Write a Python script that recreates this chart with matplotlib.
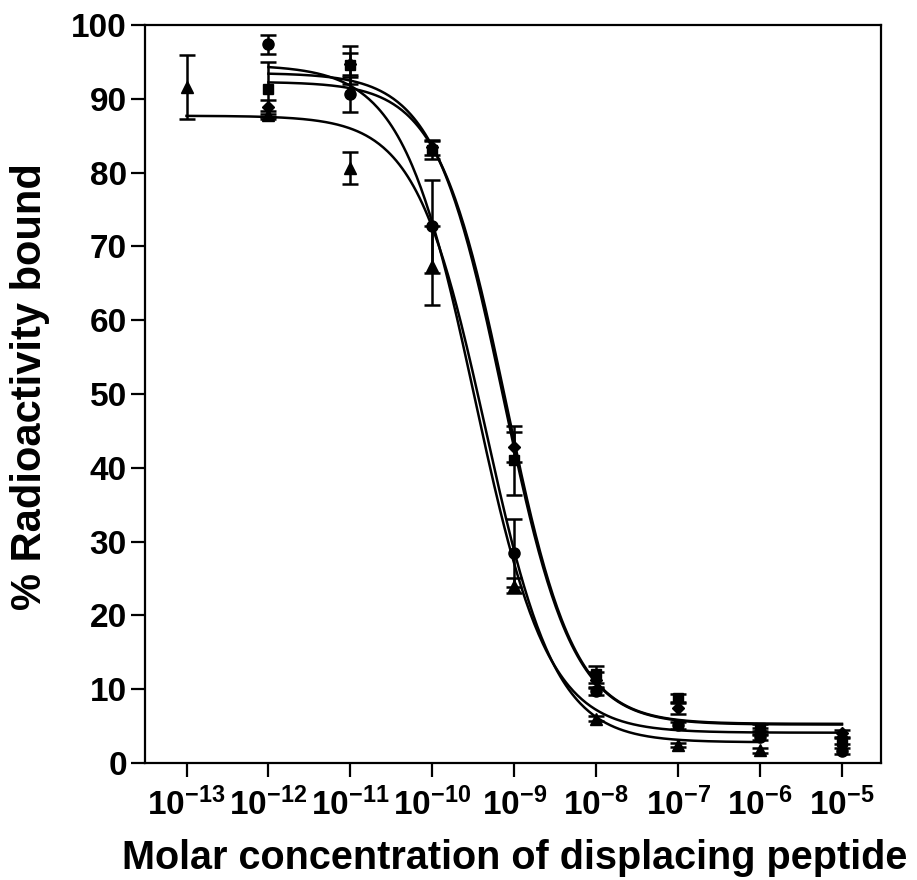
import numpy as np
import matplotlib
matplotlib.use('Agg')
import matplotlib.pyplot as plt
import matplotlib.ticker as mticker

plt.rcParams['font.family'] = ['Liberation Sans', 'DejaVu Sans']
plt.rcParams['font.weight'] = 'bold'
plt.rcParams['mathtext.fontset'] = 'custom'
plt.rcParams['mathtext.rm'] = 'Liberation Sans:bold'
plt.rcParams['mathtext.bf'] = 'Liberation Sans:bold'
plt.rcParams['mathtext.default'] = 'rm'

# concentrations (log10 M)
conc_a = [-12, -11, -10, -9, -8, -7, -6, -5]
conc_tri = [-13, -12, -11, -10, -9, -8, -7, -6]

# % radioactivity bound, mean and error
circle_y = [97.4, 90.6, 72.7, 28.4, 9.7, 5.1, 3.5, 1.6]
circle_err = [1.3, 2.4, 6.3, 4.6, 0.5, 0.5, 0.4, 0.4]
square_y = [91.3, 94.6, 83.1, 41.0, 12.0, 8.8, 4.8, 3.0]
square_err = [3.7, 2.6, 1.2, 4.7, 1.2, 0.6, 0.5, 0.4]
diamond_y = [88.9, 94.7, 83.4, 42.8, 11.3, 7.4, 4.3, 4.0]
diamond_err = [1.0, 1.5, 1.0, 2.0, 1.0, 0.7, 0.5, 0.5]
tri_y = [91.6, 87.8, 80.6, 67.4, 24.0, 6.0, 2.4, 1.7]
tri_err = [4.3, 0.5, 2.2, 5.4, 1.0, 0.3, 0.3, 0.3]

# sigmoid fit parameters: top, bottom, logIC50, hill
fit_circle = [94.6, 4.1, -9.48, 0.98]
fit_square = [93.5, 5.2, -9.13, 1.03]
fit_diamond = [92.3, 5.3, -9.10, 1.05]
fit_tri = [87.7, 2.8, -9.35, 1.02]

xticks = [-13, -12, -11, -10, -9, -8, -7, -6, -5]


def sigmoid(x, p):
	top, bottom, c, h = p
	return bottom + (top - bottom) / (1 + 10 ** ((x - c) * h))


def main():
	fig = plt.figure(figsize=(9.17, 8.8), dpi=100)
	ax = fig.add_axes([0.1581, 0.1330, 0.8026, 0.8386])

	kw = dict(color='black', linestyle='none', capsize=5.5, elinewidth=1.8,
		capthick=1.8, markersize=7.5, zorder=3)
	ax.errorbar(10.0 ** np.array(conc_a), square_y, yerr=square_err, fmt='s', **kw)
	ax.errorbar(10.0 ** np.array(conc_a), diamond_y, yerr=diamond_err, fmt='D', **dict(kw, markersize=6.5))
	ax.errorbar(10.0 ** np.array(conc_a), circle_y, yerr=circle_err, fmt='o', **dict(kw, markersize=8))
	ax.errorbar(10.0 ** np.array(conc_tri), tri_y, yerr=tri_err, fmt='^', **dict(kw, markersize=8))

	xa = np.linspace(conc_a[0], conc_a[-1], 400)
	xt = np.linspace(conc_tri[0], conc_tri[-1], 400)
	for p in (fit_circle, fit_square, fit_diamond):
		ax.plot(10 ** xa, sigmoid(xa, p), color='black', lw=1.8, zorder=2)
	ax.plot(10 ** xt, sigmoid(xt, fit_tri), color='black', lw=1.8, zorder=2)

	ax.set_xscale('log')
	ax.set_xlim(10 ** -13.507, 10 ** -4.524)
	ax.set_ylim(0, 100)
	ax.set_xticks([10.0 ** k for k in xticks])
	ax.set_xticklabels([r'$10^{%d}$' % k for k in xticks])
	ax.xaxis.set_minor_locator(mticker.NullLocator())
	ax.set_yticks(range(0, 101, 10))

	for s in ax.spines.values():
		s.set_linewidth(1.6)
	ax.tick_params(axis='both', direction='out', length=10, width=1.6,
		labelsize=24, top=False, right=False)
	ax.tick_params(axis='y', pad=3)
	ax.tick_params(axis='x', pad=8)
	for lab in ax.get_yticklabels():
		lab.set_fontweight('bold')

	ax.set_xlabel('Molar concentration of displacing peptide', fontsize=28.5, fontweight='bold')
	ax.set_ylabel('% Radioactivity bound', fontsize=30, fontweight='bold')
	ax.xaxis.set_label_coords(0.503, -0.103)
	ax.yaxis.set_label_coords(-0.129, 0.51)

	fig.savefig('out.png', dpi=100)


if __name__ == '__main__':
	main()
